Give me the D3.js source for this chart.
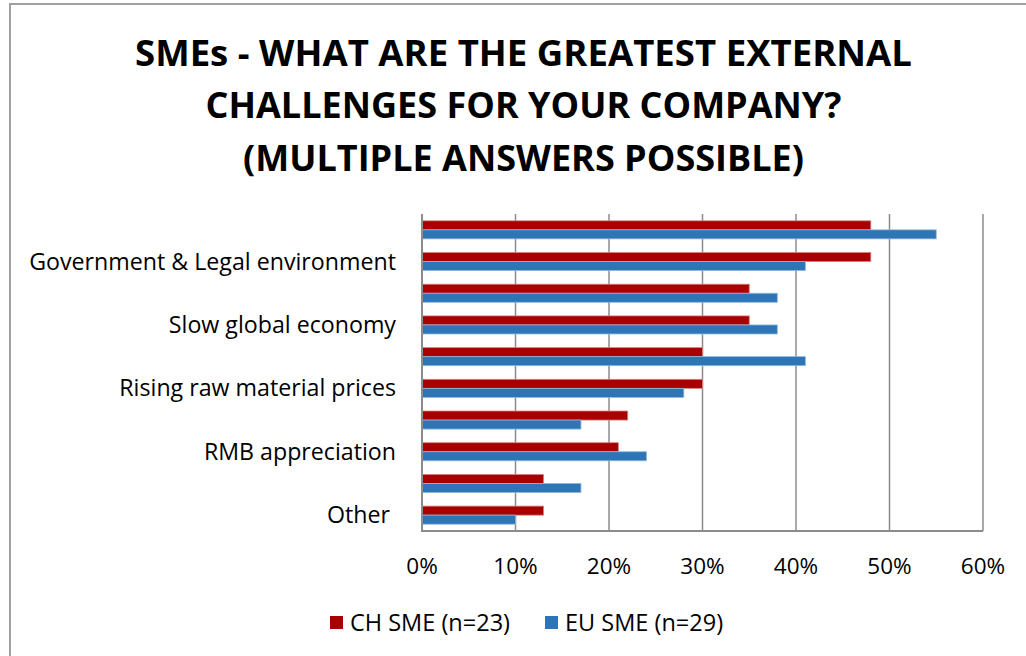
<!DOCTYPE html>
<html>
<head>
<meta charset="utf-8">
<script src="https://cdn.jsdelivr.net/npm/d3@7"></script>
<style>
  body { margin: 0; background: #fff; }
  svg { display: block; }
</style>
</head>
<body>
<div class="chart-div"></div>
<script>
//--------------------------- Data

var categories = ["", "Government & Legal environment", "", "Slow global economy", "",
    "Rising raw material prices", "", "RMB appreciation", "", "Other"];
var series = ["CH SME (n=23)", "EU SME (n=29)"];
var chValues = [0.48, 0.48, 0.35, 0.35, 0.30, 0.30, 0.22, 0.21, 0.13, 0.13];
var euValues = [0.55, 0.41, 0.38, 0.38, 0.41, 0.28, 0.17, 0.24, 0.17, 0.10];
var ticks = [0, 0.1, 0.2, 0.3, 0.4, 0.5, 0.6];
var titleLines = ["SMEs - WHAT ARE THE GREATEST EXTERNAL", "CHALLENGES FOR YOUR COMPANY?", "(MULTIPLE ANSWERS POSSIBLE)"];
var colors = ["#a80000", "#2e75b6"];
var strokes = ["#d98080", "#8fb8de"];

//--------------------------- SVG definition

var width = 1026;
var height = 656;
var font = "Open Sans, sans-serif";
var labelSize = 23.2;

var svg = d3.select("div.chart-div")
    .append("svg")
    .attr("width", width)
    .attr("height", height);

// outer frame (only left and top visible)
svg.append("path")
    .attr("d", "M10,660 L10,4 L1030,4")
    .attr("fill", "none")
    .attr("stroke", "#a0a0a0")
    .attr("stroke-width", 2);

//--------------------------- Title

var titleY = [66, 118, 171];
var titleW = [777, 636, 561];
svg.append("g").selectAll("text").data(titleLines).enter()
    .append("text")
    .attr("x", 523.5)
    .attr("y", function (d, i) { return titleY[i]; })
    .attr("text-anchor", "middle")
    .attr("textLength", function (d, i) { return titleW[i]; })
    .attr("lengthAdjust", "spacingAndGlyphs")
    .attr("font-family", font)
    .attr("font-weight", "bold")
    .attr("font-size", 36)
    .style("fill", "#000")
    .text(function (d) { return d; });

//--------------------------- Scales

var x = d3.scaleLinear().domain([0, 0.6]).range([422, 983]);
var y0 = d3.scaleBand().domain(d3.range(categories.length)).range([214, 531])
    .paddingInner(0.43).paddingOuter(0.215);
var y1 = d3.scaleBand().domain([0, 1]).range([0, y0.bandwidth()]);

var frame = svg.append("g");

// gridlines
frame.selectAll("line.grid").data(ticks.slice(1)).enter()
    .append("line")
    .attr("class", "grid")
    .attr("x1", function (d) { return x(d); })
    .attr("x2", function (d) { return x(d); })
    .attr("y1", 214)
    .attr("y2", 531)
    .attr("stroke", "#8c8c8c")
    .attr("stroke-width", 1.5);

//--------------------------- Bars

var rows = categories.map(function (c, i) { return { i: i, v: [chValues[i], euValues[i]] }; });

var groups = frame.selectAll("g.cat").data(rows).enter()
    .append("g")
    .attr("transform", function (d) { return "translate(0," + y0(d.i) + ")"; });

groups.selectAll("rect").data(function (d) { return d.v.map(function (v, k) { return { k: k, v: v }; }); })
    .enter()
    .append("rect")
    .attr("x", x(0))
    .attr("y", function (d) { return y1(d.k); })
    .attr("width", function (d) { return x(d.v) - x(0); })
    .attr("height", y1.bandwidth())
    .attr("fill", function (d) { return colors[d.k]; })
    .attr("stroke", function (d) { return strokes[d.k]; })
    .attr("stroke-width", 0.8);

// axis lines
frame.append("line")
    .attr("x1", x(0)).attr("x2", x(0.6)).attr("y1", 531).attr("y2", 531)
    .attr("stroke", "#8c8c8c").attr("stroke-width", 2);
frame.append("line")
    .attr("x1", x(0)).attr("x2", x(0)).attr("y1", 214).attr("y2", 532)
    .attr("stroke", "#8c8c8c").attr("stroke-width", 2);

//--------------------------- Axis labels

svg.append("g").selectAll("text").data(rows).enter()
    .append("text")
    .attr("x", function (d) { return d.i == 9 ? 390 : 396; })
    .attr("y", function (d) { return y0(d.i) + y0.bandwidth() / 2; })
    .attr("dy", "0.35em")
    .attr("text-anchor", "end")
    .attr("font-family", font)
    .attr("font-size", labelSize)
    .style("fill", "#000")
    .text(function (d) { return categories[d.i]; });

svg.append("g").selectAll("text").data(ticks).enter()
    .append("text")
    .attr("x", function (d) { return x(d); })
    .attr("y", 574)
    .attr("text-anchor", "middle")
    .attr("font-family", font)
    .attr("font-size", 22.5)
    .style("fill", "#000")
    .text(d3.format(".0%"));

//--------------------------- Legend

var legendX = [330, 545];
var legend = svg.append("g");
series.forEach(function (s, k) {
    legend.append("rect")
        .attr("x", legendX[k])
        .attr("y", 616)
        .attr("width", 13)
        .attr("height", 13)
        .attr("fill", colors[k]);
    legend.append("text")
        .attr("x", legendX[k] + 20)
        .attr("y", 631)
        .attr("font-family", font)
        .attr("font-size", 23.5)
        .style("fill", "#000")
        .text(s);
});
</script>
</body>
</html>
